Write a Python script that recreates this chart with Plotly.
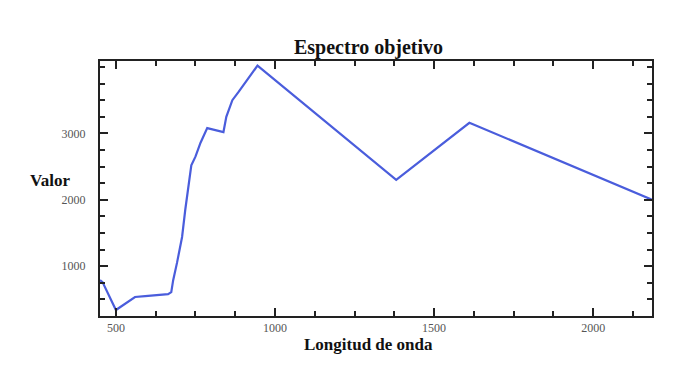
import plotly.graph_objects as go

wavelength = [450, 458, 500, 560, 592, 664, 674, 680, 692, 708, 718, 725, 731, 737,
              750, 766, 787, 838, 847, 866, 885, 945, 1381, 1611, 2185]
value = [790, 760, 340, 536, 550, 580, 610, 790, 1050, 1440, 1850, 2100, 2340, 2520,
         2650, 2860, 3080, 3020, 3250, 3500, 3620, 4020, 2300, 3160, 2000]

x_ticks = [500, 1000, 1500, 2000]
y_ticks = [1000, 2000, 3000]

# page body has an 8px margin; compensate so the plot area lands at 100..652 x 61..316
L, T = 92, 53
PW, PH = 552, 255
W, H = 680, 355
R = W - L - PW
B = H - T - PH

fig = go.Figure()
fig.add_trace(go.Scatter(x=wavelength, y=value, mode="lines",
                         line=dict(color="#4a5ddc", width=2.2), showlegend=False))

font = "Liberation Serif, Times New Roman, serif"
axis_common = dict(showgrid=False, zeroline=False, showline=True, linecolor="#222",
                   linewidth=2, mirror="allticks", ticks="inside", ticklen=8,
                   tickwidth=2, tickcolor="#222",
                   tickfont=dict(family=font, size=12, color="#555"))

fig.update_xaxes(range=[450, 2185], tickvals=x_ticks, ticktext=[str(v) for v in x_ticks],
                 minor=dict(ticks="inside", dtick=125, tick0=0, ticklen=5, tickwidth=2,
                            tickcolor="#222"),
                 **axis_common)
fig.update_yaxes(range=[250, 4090], tickvals=y_ticks, ticktext=[str(v) for v in y_ticks],
                 ticklabelstandoff=10,
                 minor=dict(ticks="inside", dtick=250, tick0=0, ticklen=5, tickwidth=2,
                            tickcolor="#222"),
                 **axis_common)

cx = (368 - 100) / PW
fig.update_layout(
    width=W, height=H,
    margin=dict(l=L, r=R, t=T, b=B),
    plot_bgcolor="white", paper_bgcolor="white",
    annotations=[
        dict(text="<b>Espectro objetivo</b>", xref="paper", yref="paper",
             x=cx, y=1, yshift=14, showarrow=False,
             font=dict(family=font, size=20, color="#111"), xanchor="center",
             yanchor="middle"),
        dict(text="<b>Longitud de onda</b>", xref="paper", yref="paper",
             x=cx, y=0, yshift=-28, showarrow=False,
             font=dict(family=font, size=17, color="#111"), xanchor="center",
             yanchor="middle"),
        dict(text="<b>Valor</b>", xref="paper", yref="paper",
             x=0, xshift=-28, y=(316 - 180) / PH, showarrow=False,
             font=dict(family=font, size=17, color="#111"), xanchor="right",
             yanchor="middle"),
    ],
)

fig.write_html("out.html")
